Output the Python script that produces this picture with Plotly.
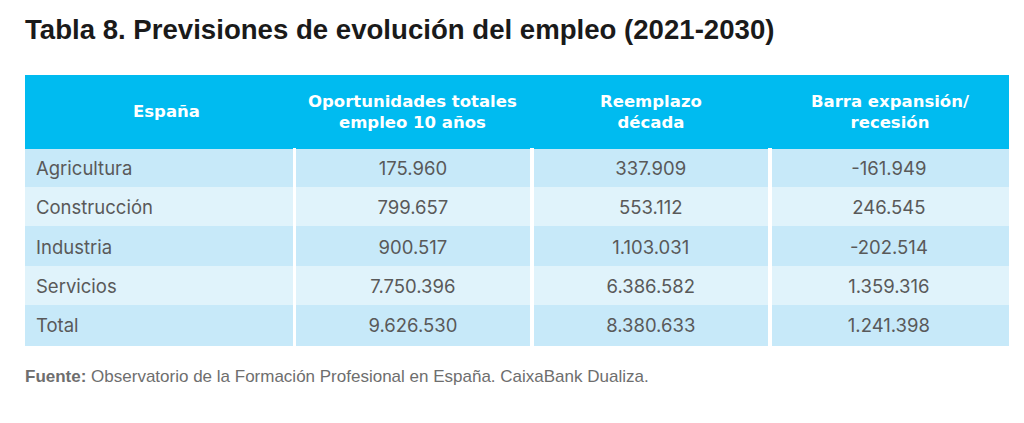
import plotly.graph_objects as go

# datos de la tabla
sectores = ["Agricultura", "Construcción", "Industria", "Servicios", "Total"]
oportunidades = [175960, 799657, 900517, 7750396, 9626530]
reemplazo = [337909, 553112, 1103031, 6386582, 8380633]
expansion = [-161949, 246545, -202514, 1359316, 1241398]
cabeceras = ["España", "Oportunidades totales<br>empleo 10 años",
             "Reemplazo<br>década", "Barra expansión/<br>recesión"]

# la pagina tiene 8px de margen en el body
OFF = 8
W, H = 1024 - OFF, 423 - OFF
AZUL = "#00bbf0"
OSCURO = "#c7e9f9"
CLARO = "#e0f3fb"
GRIS = "#595959"
NADA = "rgba(0,0,0,0)"
F_CAB = "DejaVu Sans, Arial, sans-serif"
F_CUERPO = "Inter, Liberation Sans, Arial, sans-serif"


def fmt(v):
    # separador de miles con punto
    return f"{v:,}".replace(",", ".")


def fx(px):
    return (px - OFF) / W


def fy(px):
    return 1 - (px - OFF) / H


# bordes de las columnas en pixeles (hueco blanco entre ellas)
cols_px = [(25, 292), (296, 529.5), (534, 767.5), (772, 1008)]
top_band, top_body, bottom = 75, 148, 345
row_h = (bottom - top_body) / len(sectores)
dy_texto = 5  # el texto va centrado en la fila

columnas = [sectores,
            [fmt(v) for v in oportunidades],
            [fmt(v) for v in reemplazo],
            [fmt(v) for v in expansion]]
filas_color = [OSCURO if i % 2 == 0 else CLARO for i in range(len(sectores))]

fig = go.Figure()

# banda azul de la cabecera (tapa los huecos entre columnas)
fig.add_shape(type="rect", xref="paper", yref="paper",
              x0=fx(25), x1=fx(1008), y0=fy(top_body), y1=fy(top_band),
              fillcolor=AZUL, line_width=0, layer="below")

# fondos: una tabla por columna para dejar solo separadores verticales
for i, (x0, x1) in enumerate(cols_px):
    fig.add_trace(go.Table(
        domain=dict(x=[fx(x0), fx(x1)], y=[fy(bottom + 15), fy(top_band)]),
        header=dict(values=[""], fill_color=AZUL,
                    line=dict(color=AZUL, width=1), height=top_body - top_band),
        cells=dict(values=[[""] * len(sectores)],
                   fill_color=[filas_color],
                   line=dict(color=[filas_color], width=1),
                   height=row_h),
    ))

# textos del cuerpo encima de los fondos
x_txt = 28
medios = [(cols_px[i][1] + cols_px[i + 1][0]) / 2 for i in range(3)]
bordes = [x_txt] + medios + [cols_px[-1][1]]
fig.add_trace(go.Table(
    domain=dict(x=[fx(x_txt), fx(bordes[-1])], y=[fy(bottom + 20), fy(top_band)]),
    columnwidth=[bordes[i + 1] - bordes[i] for i in range(4)],
    header=dict(values=[""] * 4, fill_color=NADA, line=dict(color=NADA, width=0),
                height=top_body + dy_texto - top_band),
    cells=dict(values=columnas, fill_color=NADA, line=dict(color=NADA, width=0),
               align=["left", "center", "center", "center"], height=row_h,
               font=dict(family=F_CUERPO, size=18.5, color=GRIS)),
))

# titulos de columna
for i, (x0, x1) in enumerate(cols_px):
    fig.add_annotation(text=f"<b>{cabeceras[i]}</b>", xref="paper", yref="paper",
                       x=fx((x0 + x1) / 2 + (8 if i == 0 else 0)),
                       y=fy((top_band + top_body) / 2 + 0.5),
                       xanchor="center", yanchor="middle", align="center",
                       showarrow=False,
                       font=dict(family=F_CAB, size=16.5, color="white"))

fig.add_annotation(text="<b>Tabla 8. Previsiones de evolución del empleo (2021-2030)</b>",
                   xref="paper", yref="paper", x=fx(23), y=fy(29),
                   xanchor="left", yanchor="middle", showarrow=False,
                   font=dict(family="Liberation Sans, Arial", size=27.6, color="#1a1a1a"))
fig.add_annotation(text="<b>Fuente:</b> Observatorio de la Formación Profesional en España. CaixaBank Dualiza.",
                   xref="paper", yref="paper", x=fx(23), y=fy(376),
                   xanchor="left", yanchor="middle", showarrow=False,
                   font=dict(family="Liberation Sans, Arial", size=17, color="#6e6e6e"))

fig.update_layout(width=W, height=H, margin=dict(l=0, r=0, t=0, b=0),
                  paper_bgcolor="white", plot_bgcolor="white")

fig.write_html("out.html")
